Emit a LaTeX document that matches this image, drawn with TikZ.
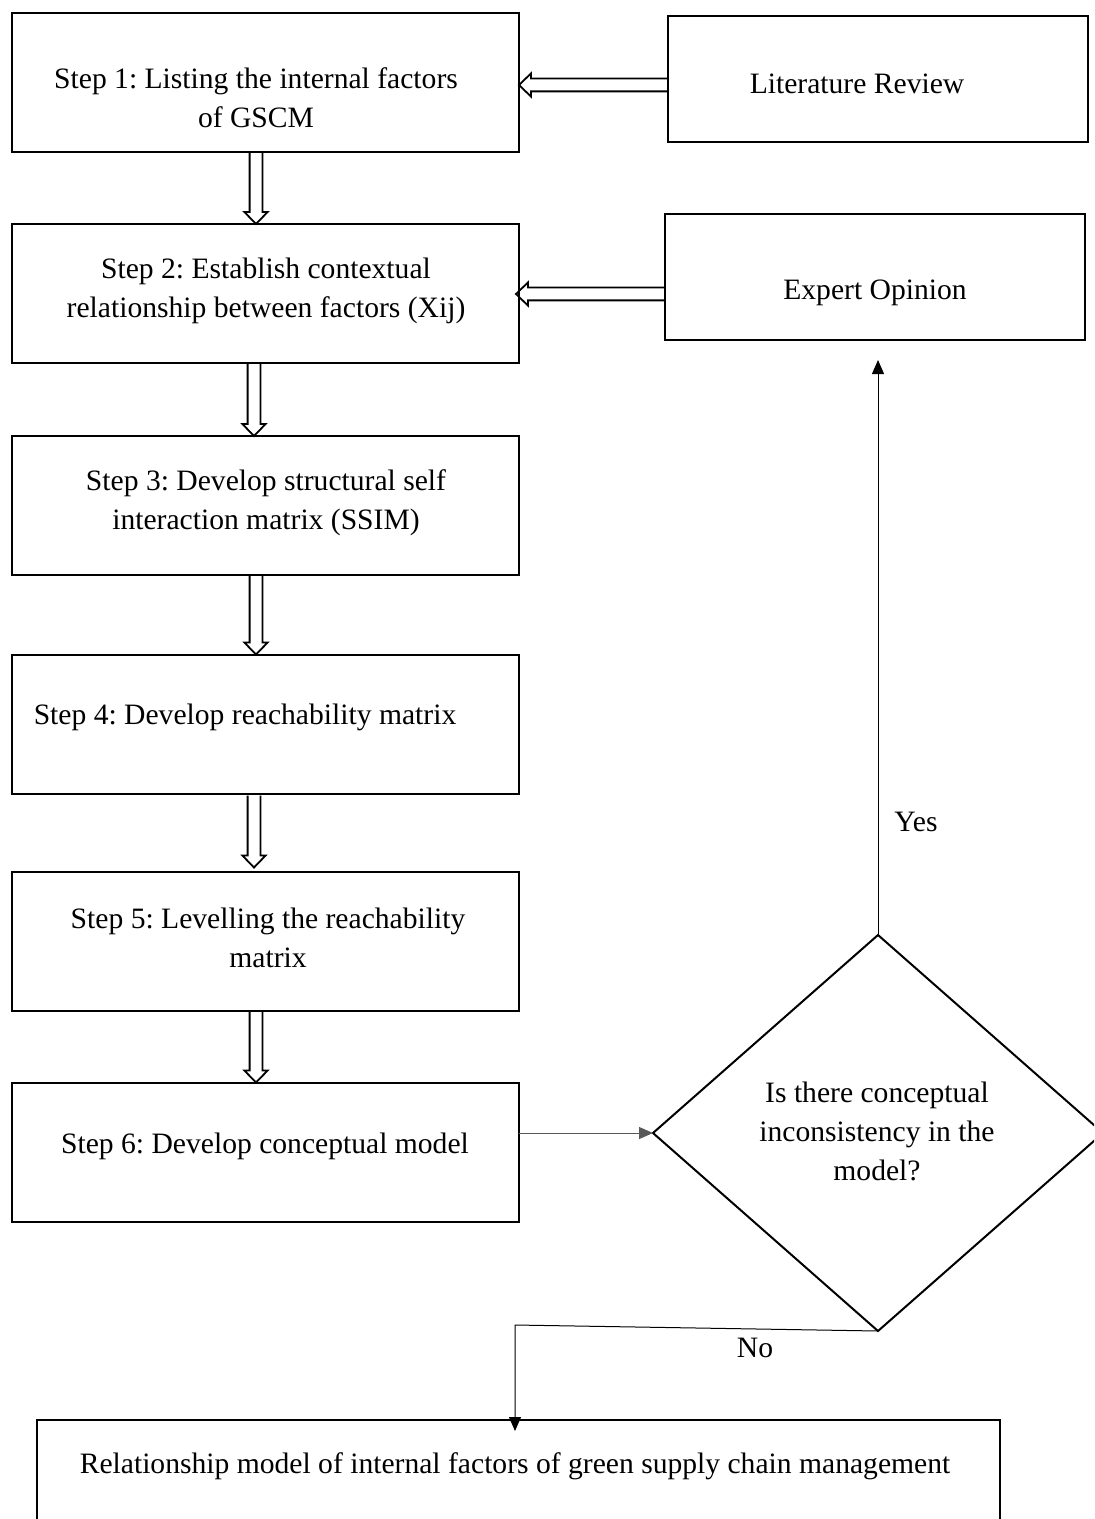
\documentclass[tikz,border=0pt]{standalone}
\usepackage{fontspec}
\setmainfont{Liberation Serif}
\usetikzlibrary{arrows.meta,shapes.geometric,calc}
\tikzset{
  stepbox/.style={draw, line width=1pt, minimum width=253.5pt, minimum height=69.5pt, inner sep=0pt, outer sep=0pt},
  sidebox/.style={draw, line width=1pt, minimum width=210pt, minimum height=63pt, inner sep=0pt, outer sep=0pt},
  txt/.style={align=center, inner sep=0pt, font=\frenchspacing\fontsize{14.8}{19.5}\selectfont},
  hollowline/.style={line width=0.9pt, line join=miter},
  thinarrow/.style={line width=0.5pt, -{Triangle[length=7pt,width=6pt]}},
}
% hollow (outlined) arrow from coordinate #1 to coordinate #2
\newcommand{\harrow}[2]{%
  \coordinate (hh) at ($(#2)!6pt!(#1)$);
  \draw[hollowline]
    ($(#1)!3.2pt!90:(#2)$) -- ($(hh)!3.2pt!-90:(#1)$) -- ($(hh)!5.8pt!-90:(#1)$)
    -- (#2) -- ($(hh)!5.8pt!90:(#1)$) -- ($(hh)!3.2pt!90:(#1)$) -- ($(#1)!3.2pt!-90:(#2)$);
}
\begin{document}
\begin{tikzpicture}[x=0.5pt,y=-0.5pt]
\useasboundingbox (0,0) rectangle (1094,1519);
\clip (0,0) rectangle (1094,1519);
% boxes
\node[stepbox] (s1) at (265.5,82.5) {};
\node[stepbox] (s2) at (265.5,293.5) {};
\node[stepbox] (s3) at (265.5,505.5) {};
\node[stepbox] (s4) at (265.5,724) {};
\node[stepbox] (s5) at (265.5,941) {};
\node[stepbox] (s6) at (265.5,1152) {};
\node[sidebox] (lit) at (877.5,79) {};
\node[sidebox] (ex) at (875,277) {};
\node[draw, line width=1pt, diamond, minimum width=225pt, minimum height=198pt, inner sep=0pt, outer sep=0pt] (d) at (878,1133) {};
\node[draw, line width=1pt, minimum width=481.5pt, minimum height=70pt, inner sep=0pt, outer sep=0pt] (bot) at (518.5,1490) {};
% texts
\node[txt] (t1) at (256,98) {Step 1: Listing the internal factors\\of GSCM};
\node[txt] (tl) at (857,84) {Literature Review};
\node[txt] (t2) at (266,291) {Step 2: Establish contextual\\relationship between factors (Xij)};
\node[txt] (te) at (875,293) {Expert Opinion};
\node[txt] (t3) at (266,503) {Step 3: Develop structural self\\interaction matrix (SSIM)};
\node[txt] (t4) at (245,717) {Step 4: Develop reachability matrix};
\node[txt] (t5) at (268,938) {Step 5: Levelling the reachability\\matrix};
\node[txt] (t6) at (265,1146) {Step 6: Develop conceptual model};
\node[txt] (td) at (877,1131) {Is there conceptual\\inconsistency in the\\model?};
\node[txt] (tb) at (515,1466) {Relationship model of internal factors of green supply chain management};
\node[txt] (yes) at (916,822) {Yes};
\node[txt] (no) at (755,1348) {No};
% hollow arrows
\coordinate (a1) at ([xshift=-4.75pt]s1.south); \coordinate (b1) at (a1 |- s2.north);
\coordinate (a2) at ([xshift=-5.75pt]s2.south); \coordinate (b2) at (a2 |- s3.north);
\coordinate (a3) at ([xshift=-4.75pt]s3.south); \coordinate (b3) at (a3 |- s4.north);
\coordinate (a4) at ([xshift=-5.75pt,yshift=-1pt]s4.south); \coordinate (b4) at ([yshift=2pt]a4 |- s5.north);
\coordinate (a5) at ([xshift=-4.75pt]s5.south); \coordinate (b5) at (a5 |- s6.north);
\coordinate (a6) at ([yshift=-3pt]lit.west); \coordinate (b6) at (a6 -| s1.east);
\coordinate (a7) at ([yshift=-8.5pt]ex.west); \coordinate (b7) at ([xshift=-1.5pt]a7 -| s2.east);
\harrow{a1}{b1}
\harrow{a2}{b2}
\harrow{a3}{b3}
\harrow{a4}{b4}
\harrow{a5}{b5}
\harrow{a6}{b6}
\harrow{a7}{b7}
% thin connectors
\draw[thinarrow, black!65] (d.west -| s6.east) -- (d.west);
\coordinate (yesend) at (878,360);
\draw[thinarrow] (d.north) -- (yesend);
\coordinate (nocorner) at (515,1325);
\coordinate (noend) at (515,1431);
\draw[thinarrow] (d.south) -- (nocorner) -- (noend);
\end{tikzpicture}
\end{document}
